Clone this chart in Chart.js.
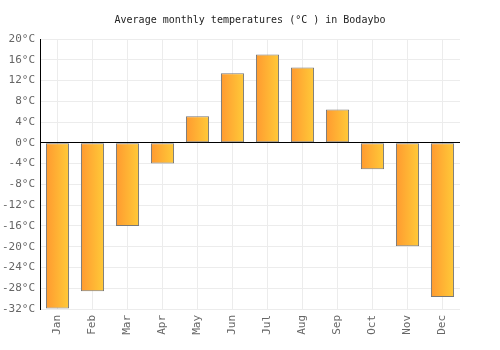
<!DOCTYPE html>
<html>
<head>
<meta charset="utf-8">
<script src="https://cdn.jsdelivr.net/npm/chart.js@4/dist/chart.umd.min.js"></script>
<style>
  html, body { margin: 0; padding: 0; background: #fff; }
  #wrap { width: 500px; height: 350px; }
</style>
</head>
<body>
<div id="wrap"><canvas id="temps" width="500" height="350"></canvas></div>
<script>
const months = ['Jan', 'Feb', 'Mar', 'Apr', 'May', 'Jun', 'Jul', 'Aug', 'Sep', 'Oct', 'Nov', 'Dec'];
const avgTemp = [-31.9, -28.6, -16.0, -4.0, 5.1, 13.4, 17.0, 14.5, 6.4, -5.1, -19.9, -29.7];
const yMin = -32;
const yMax = 20;
const yStep = 4;

const fontFamily = '"DejaVu Sans Mono", monospace';

window.onload = function() {
    const ctx = document.getElementById('temps').getContext('2d');

    function barGradient(c) {
        const chart = c.chart;
        const x = chart.scales.x;
        if (!x || c.dataIndex === undefined) return '#ffb030';
        const center = x.getPixelForValue(c.dataIndex);
        const half = (x.width / months.length) * 0.66 / 2;
        if (!isFinite(center) || !isFinite(half) || half <= 0) return '#ffb030';
        const g = chart.ctx.createLinearGradient(center - half, 0, center + half, 0);
        g.addColorStop(0, '#ff9a30');
        g.addColorStop(1, '#ffca38');
        return g;
    }

    new Chart(ctx, {
        type: 'bar',
        data: {
            labels: months,
            datasets: [{
                label: 'Temperature',
                data: avgTemp,
                backgroundColor: barGradient,
                borderColor: '#787878',
                borderWidth: 1,
                borderSkipped: false,
                barPercentage: 0.66,
                categoryPercentage: 1
            }]
        },
        options: {
            responsive: false,
            animation: false,
            layout: { padding: { left: 0, right: 40, top: 0, bottom: 0 } },
            plugins: {
                legend: { display: false },
                tooltip: { enabled: false },
                title: {
                    display: true,
                    fullSize: false, // centre over the plot area only
                    text: 'Average monthly temperatures (°C ) in Bodaybo',
                    color: '#222',
                    font: { family: fontFamily, size: 10, weight: 'normal' },
                    padding: { top: 14, bottom: 13 }
                }
            },
            scales: {
                x: {
                    grid: { color: '#ececec', drawTicks: false, offset: false },
                    border: { display: false },
                    ticks: {
                        color: '#666',
                        font: { family: fontFamily, size: 11 },
                        maxRotation: 90,
                        minRotation: 90,
                        padding: 6
                    },
                    afterFit: function(s) { s.height = 41; }
                },
                y: {
                    min: yMin,
                    max: yMax,
                    grid: {
                        color: function(c) { return c.tick && c.tick.value === 0 ? '#000' : '#ececec'; },
                        drawTicks: false
                    },
                    border: { color: '#000', width: 1 },
                    ticks: {
                        stepSize: yStep,
                        color: '#666',
                        font: { family: fontFamily, size: 11 },
                        padding: 5,
                        callback: function(v) { return v + '°C'; }
                    },
                    afterFit: function(s) { s.width = 40; }
                }
            }
        }
    });
};
</script>
</body>
</html>
